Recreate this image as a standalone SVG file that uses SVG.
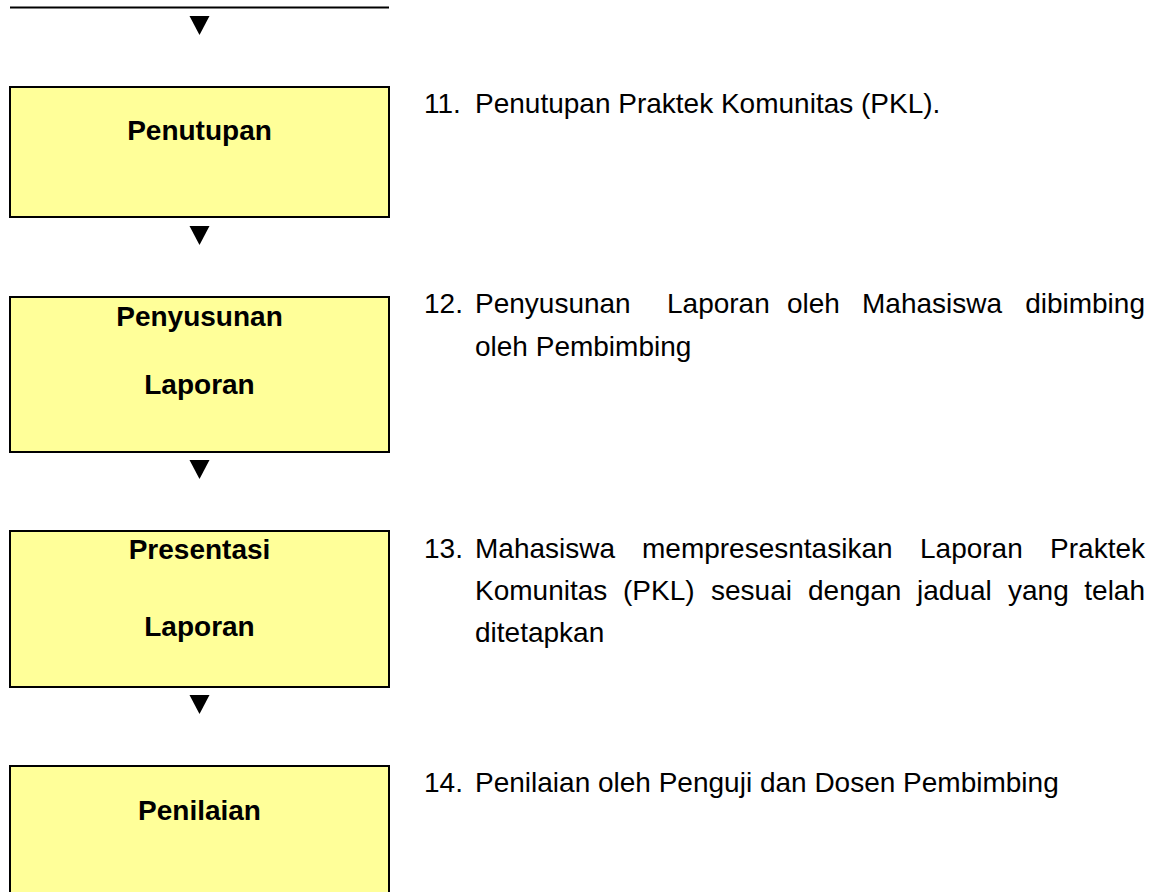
<svg xmlns="http://www.w3.org/2000/svg" width="1152" height="892" viewBox="0 0 1152 892">
<style>
.box{fill:#FFFF99;stroke:#000;stroke-width:2}
.title{font-family:"Liberation Sans",Arial,sans-serif;font-weight:bold;font-size:28px;fill:#000;text-anchor:middle}
.desc{font-family:"Liberation Sans",Arial,sans-serif;font-size:28px;fill:#000}
.arr{fill:#000}
</style>
<rect width="1152" height="892" fill="#fff"/>
<g id="connectors">
<line x1="10" y1="7.5" x2="389" y2="7.5" stroke="#000" stroke-width="2"/>
<polygon class="arr" points="189.5,16 209.5,16 199.5,35"/>
<polygon class="arr" points="189.5,226 209.5,226 199.5,245"/>
<polygon class="arr" points="189.5,460 209.5,460 199.5,479"/>
<polygon class="arr" points="189.5,695 209.5,695 199.5,714"/>
</g>
<g id="node-penutupan">
<rect class="box" x="10" y="87" width="379" height="130"/>
<text class="title" x="199.5" y="140">Penutupan</text>
</g>
<g id="node-penyusunan">
<rect class="box" x="10" y="297" width="379" height="155"/>
<text class="title" x="199.5" y="326">Penyusunan</text>
<text class="title" x="199.5" y="394">Laporan</text>
</g>
<g id="node-presentasi">
<rect class="box" x="10" y="531" width="379" height="156"/>
<text class="title" x="199.5" y="559">Presentasi</text>
<text class="title" x="199.5" y="636">Laporan</text>
</g>
<g id="node-penilaian">
<rect class="box" x="10" y="766" width="379" height="140"/>
<text class="title" x="199.5" y="820">Penilaian</text>
</g>
<g id="desc-11">
<text class="desc" y="113"><tspan x="424">11.</tspan><tspan x="475">Penutupan Praktek Komunitas (PKL).</tspan></text>
</g>
<g id="desc-12">
<text class="desc" y="313"><tspan x="424">12.</tspan><tspan x="475">Penyusunan</tspan><tspan x="667">Laporan</tspan><tspan x="787">oleh</tspan><tspan x="862">Mahasiswa</tspan><tspan x="1145" text-anchor="end">dibimbing</tspan></text>
<text class="desc" x="475" y="356">oleh Pembimbing</text>
</g>
<g id="desc-13">
<text class="desc" y="558"><tspan x="424">13.</tspan><tspan x="475">Mahasiswa</tspan><tspan x="642">mempresesntasikan</tspan><tspan x="920">Laporan</tspan><tspan x="1145" text-anchor="end">Praktek</tspan></text>
<text class="desc" y="600"><tspan x="475">Komunitas</tspan><tspan x="623">(PKL)</tspan><tspan x="711">sesuai</tspan><tspan x="808">dengan</tspan><tspan x="917">jadual</tspan><tspan x="1008">yang</tspan><tspan x="1145" text-anchor="end">telah</tspan></text>
<text class="desc" x="475" y="642">ditetapkan</text>
</g>
<g id="desc-14">
<text class="desc" y="792"><tspan x="424">14.</tspan><tspan x="475">Penilaian oleh Penguji dan Dosen Pembimbing</tspan></text>
</g>
</svg>
